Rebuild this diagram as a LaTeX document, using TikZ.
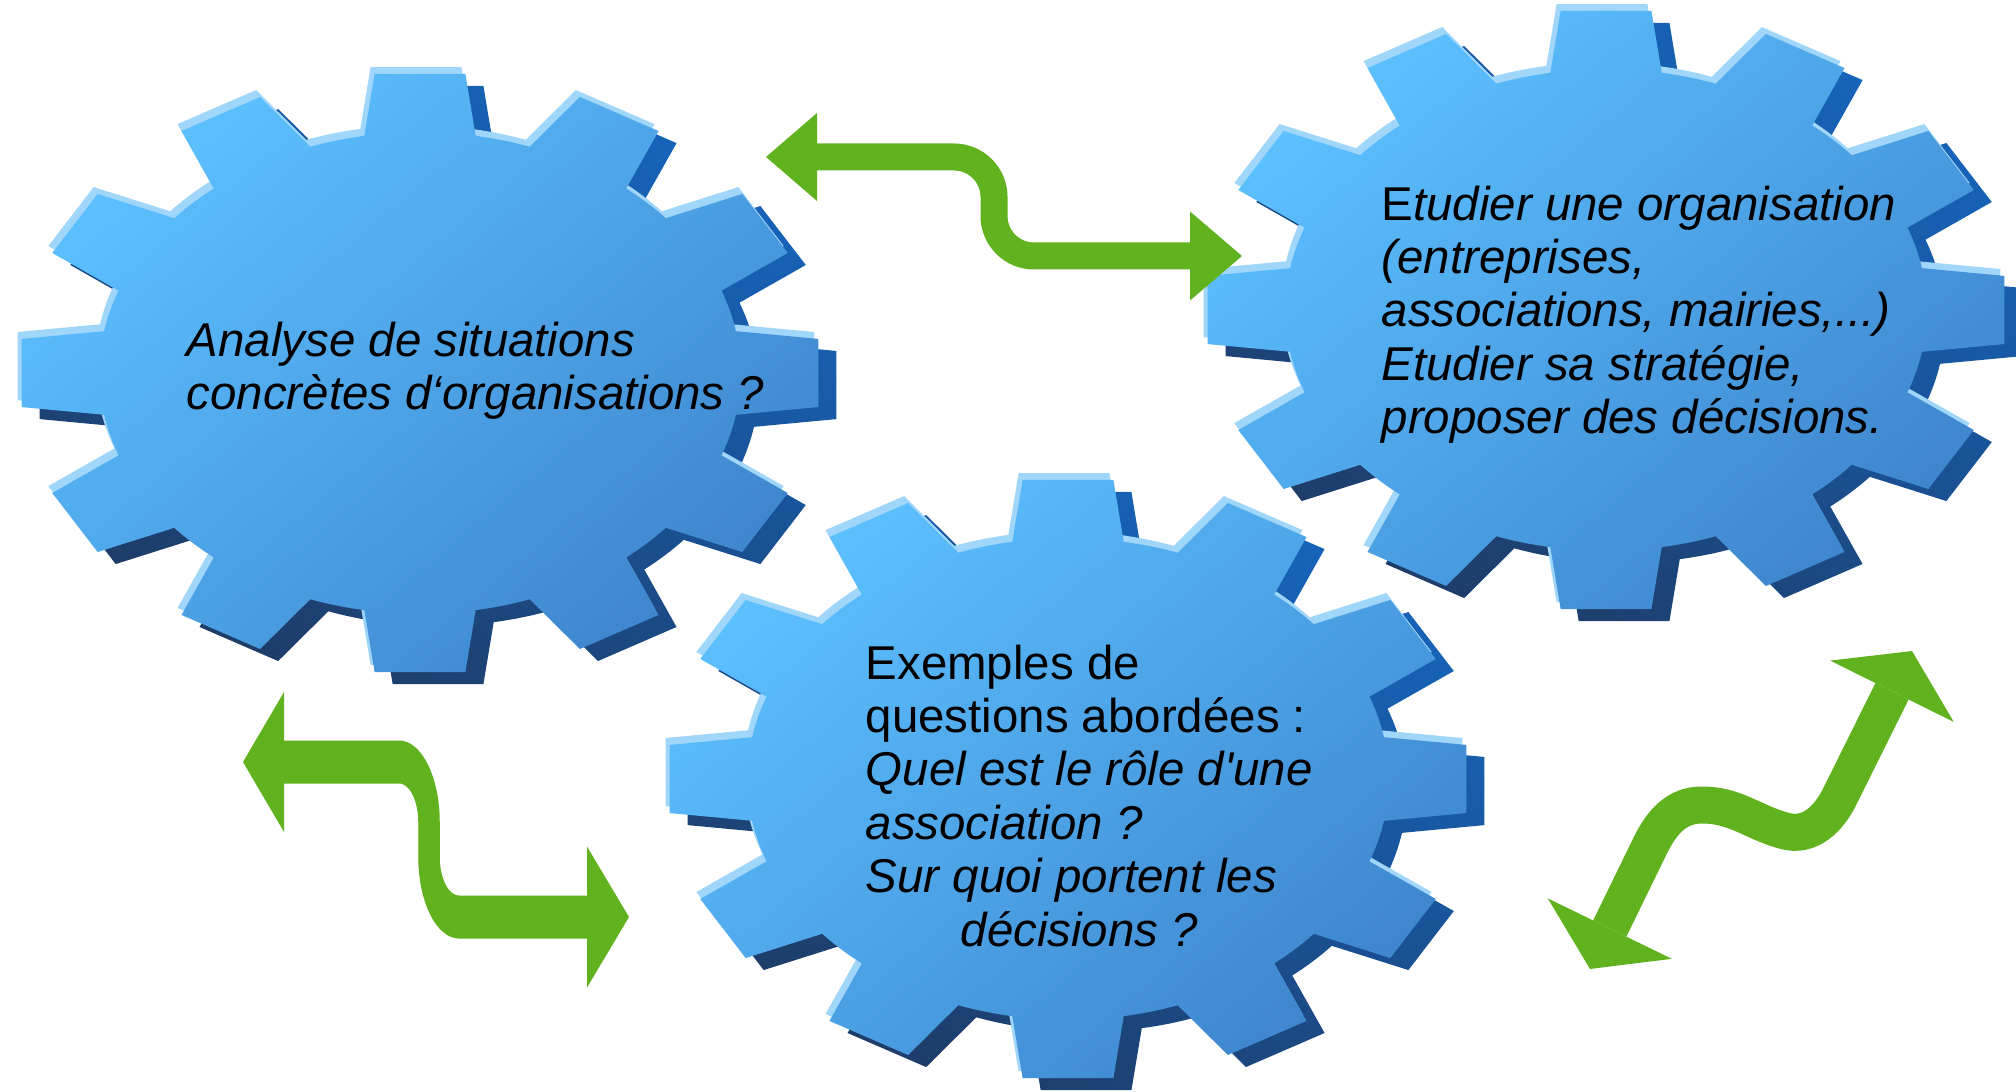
\documentclass[tikz,border=0pt]{standalone}
\usepackage{fontspec}
\setmainfont{Liberation Sans}
\usetikzlibrary{arrows.meta}

\definecolor{cogface1}{RGB}{92,192,255}
\definecolor{cogface2}{RGB}{62,134,206}
\definecolor{cogrim}{RGB}{160,214,250}
\definecolor{cogdeep1}{RGB}{22,100,186}
\definecolor{cogdeep2}{RGB}{30,60,104}
\definecolor{linkgreen}{RGB}{96,178,30}

\newcommand{\cogpath}{(-10:0.8) \foreach \a in {0,30,...,330}{ -- (\a-10:0.8) -- (\a-6.5:1) -- (\a+6.5:1) -- (\a+10:0.8) arc[start angle=\a+10, end angle=\a+20, radius=0.8]} -- cycle}

\tikzset{
  cogwheel/.pic={
    \shade[top color=cogdeep1, bottom color=cogdeep2, shading angle=-30, shift={(0.045,-0.04)}] \cogpath;
    \fill[cogrim, shift={(-0.01,0.023)}] \cogpath;
    \shade[top color=cogface1, bottom color=cogface2, shading angle=40] \cogpath;
  },
  cogsize/.style={xscale=4.01, yscale=3.01},
  cogtext/.style={font=\fontsize{13.5}{15.2}\selectfont\itshape, align=left, inner sep=0pt, anchor=north west},
  linkarrow/.style={draw=linkgreen, line width=#1}
}

\begin{document}
\begin{tikzpicture}
    \useasboundingbox (0,0) rectangle (20.16,10.91);
    \clip (0,0) rectangle (20.16,10.91);

    \coordinate (cogA) at (4.20,7.18);
    \coordinate (cogB) at (16.06,7.81);
    \coordinate (cogC) at (10.68,3.12);
    \pic[cogsize] at (cogA) {cogwheel};
    \pic[cogsize] at (cogC) {cogwheel};
    \pic[cogsize] at (cogB) {cogwheel};

    \coordinate (linkAleft) at (7.66,9.34);
    \coordinate (linkAright) at (12.42,8.35);
    \draw[linkarrow=0.27cm, rounded corners=0.4cm,
      {Triangle[length=0.51cm,width=0.88cm,line width=0pt]}-{Triangle[length=0.52cm,width=0.89cm,line width=0pt]}]
      (linkAleft) -| (9.94,8.35) -- (linkAright);

    \begin{scope}[transform canvas={xscale=0.5}]
      \coordinate (linkBleft) at (4.86,3.29);
      \coordinate (linkBright) at (12.58,1.74);
      \draw[linkarrow=0.43cm, rounded corners=0.6cm,
        {Triangle[length=0.82cm,width=1.40cm,line width=0pt]}-{Triangle[length=0.84cm,width=1.41cm,line width=0pt]}]
        (linkBleft) -| (8.58,1.74) -- (linkBright);
    \end{scope}

    \coordinate (linkClow) at (15.90,1.22);
    \coordinate (linkCup) at (19.12,4.40);
    \draw[linkarrow=0.37cm,
      {Triangle[length=0.45cm,width=1.38cm,line width=0pt]}-{Triangle[length=0.45cm,width=1.38cm,line width=0pt]}]
      (linkClow) -- (16.50,2.45) to[out=64,in=180] (17.02,2.86) to[out=0,in=165] (17.85,2.60)
      to[out=-15,in=244] (18.40,2.95) -- (linkCup);

    \node[cogtext] (analyse) at (1.86,7.70) {Analyse de situations\\concrètes d‘organisations ?};
    \node[cogtext] (etudier) at (13.81,9.06) {{\upshape E}tudier une organisation\\(entreprises,\\associations, mairies,...)\\Etudier sa stratégie,\\proposer des décisions.};
    \node[cogtext] (exemples) at (8.65,4.47) {{\upshape Exemples de}\\{\upshape questions abordées :}\\Quel est le rôle d\textquotesingle une\\association ?\\Sur quoi portent les\\\hspace*{0.95cm}décisions ?};
\end{tikzpicture}
\end{document}
